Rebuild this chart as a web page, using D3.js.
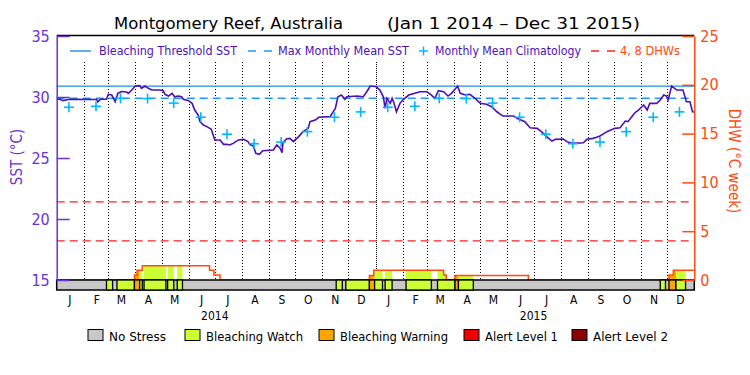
<!DOCTYPE html>
<html><head><meta charset="utf-8">
<script src="https://cdn.jsdelivr.net/npm/d3@7"></script>
<style>
body{margin:0;background:#fff;}
svg{display:block;}
text{font-family:'DejaVu Sans Condensed','Liberation Sans Narrow','DejaVu Sans',sans-serif;}
</style>
</head><body>
<svg id="chart" width="750" height="375"></svg>
<script>
// ---------- DATA ----------
const sstDay = [0,4,7,15,46,47,50,57,59,63,67,70,74,80,82,86,90,95,97,101,105,109,118,122,124,128,132,135,139,143,145,151,155,158,162,164,168,172,177,181,187,191,195,198,202,208,214,219,221,225,228,232,236,248,252,256,258,259,263,267,271,277,282,288,290,296,300,313,319,322,326,330,332,344,351,355,359,366,370,374,376,378,382,384,386,389,393,397,403,410,416,424,429,433,437,443,448,452,456,459,462,468,473,479,485,492,498,504,508,511,523,527,536,542,550,555,561,567,571,580,584,590,603,607,614,618,622,630,639,645,651,654,658,662,666,670,672,676,679,687,691,695,698,700,704,710,717,721,725,728,730];
const sstVal = [29.81,29.81,29.70,29.81,29.80,29.61,29.81,29.81,30.22,30.16,29.61,30.30,30.45,30.41,30.30,30.57,30.90,30.93,30.71,30.90,30.71,30.57,30.57,30.52,30.22,30.08,30.30,30.02,30.08,30.02,29.81,29.70,29.48,28.93,28.52,27.98,27.70,27.57,27.35,26.48,26.48,26.12,26.12,26.07,26.20,26.48,26.53,26.34,26.12,25.98,25.39,25.30,25.60,25.66,26.07,25.79,25.43,26.25,26.56,26.61,26.34,26.75,27.16,27.43,27.98,28.11,28.34,28.39,29.07,30.02,30.16,29.81,30.02,30.08,30.02,30.43,30.90,30.84,30.57,30.02,29.07,29.89,29.48,29.89,29.53,28.79,29.48,29.81,30.16,30.30,30.43,30.43,30.16,29.89,30.52,30.43,30.08,30.30,30.63,30.90,30.30,30.16,30.22,29.89,29.48,29.40,29.20,28.79,28.58,28.44,28.44,28.25,27.98,27.48,27.43,27.16,26.75,26.39,26.53,26.56,26.34,26.20,26.25,26.53,26.61,26.70,26.80,27.16,27.43,27.48,28.03,27.98,28.34,28.71,28.93,29.20,29.34,28.93,29.48,29.48,29.75,30.16,30.08,29.75,30.90,30.57,30.57,29.61,29.61,28.79,28.77];
const climVal = [29.16,29.24,29.89,29.87,29.50,28.34,26.95,26.17,26.31,27.16,28.34,28.78];
const mmmSST = 29.89;
const thresholdSST = 30.89;
const dhwRefLines = [4, 8];
const dhwDay = [0,89,92,98,175,180,187,358,363,443,446,456,540,701,706,730];
const dhwVal = [0,0.5,1.0,1.46,1.0,0.5,0,0.45,1.0,0.5,0,0.45,0,0.5,1.0,1.0];
const stressStart = [57,69,89,95,100,127,138,320,331,358,364,376,400,436,456,460,691,701,709];
const stressEnd   = [64,89,95,98,125,134,144,327,358,364,373,384,429,456,460,477,697,709,720];
const stressLevel = [1,1,2,1,1,1,1,1,1,2,1,1,1,1,2,1,1,2,1];
const stressNames = ["No Stress","Bleaching Watch","Bleaching Warning","Alert Level 1","Alert Level 2"];
const monthLabels = ["J","F","M","A","M","J","J","A","S","O","N","D"];
const yearLabels = [2014, 2015];
const sstTicks = [15,20,25,30,35];
const dhwTicks = [0,5,10,15,20,25];

// ---------- STYLE ----------
const C = {
  axisSST:"#6a33d6", sstLine:"#4c10b8", thresh:"#1e8fe6", mmm:"#1e9cf2", clim:"#00b8ff",
  dhw:"#ff4a10", dhwRef:"#ff2020",
  stress:["#c8c8c8","#ccff33","#ffa500","#ee0000","#8b0000"]
};
const svg = d3.select("#chart");
const day = d => d3.utcDay.offset(new Date(Date.UTC(2014,0,1)), d);
const x = d3.scaleUtc().domain([new Date(Date.UTC(2014,0,1)), new Date(Date.UTC(2016,0,1))]).range([56.7, 694.3]);
const yS = d3.scaleLinear().domain([15,35]).range([280,36]);
const yD = d3.scaleLinear().domain([0,25]).range([280,36]);
const L = 56.7, R = 694.3;

// title
svg.append("text").attr("x",114).attr("y",29).attr("font-size",16).attr("textLength",229).attr("lengthAdjust","spacingAndGlyphs").text("Montgomery Reef, Australia");
svg.append("text").attr("x",387).attr("y",29).attr("font-size",16).attr("textLength",253).attr("lengthAdjust","spacingAndGlyphs").text("(Jan 1 2014 \u2013 Dec 31 2015)");

// top border
svg.append("line").attr("x1",L).attr("x2",R).attr("y1",35.5).attr("y2",35.5).attr("stroke","#000").attr("stroke-width",1.5);

// dotted month lines
const months = d3.utcMonth.range(new Date(Date.UTC(2014,1,1)), new Date(Date.UTC(2016,0,1)));
svg.append("g").selectAll("line").data(months).join("line")
  .attr("x1",d=>Math.round(x(d))+0.5).attr("x2",d=>Math.round(x(d))+0.5)
  .attr("y1",62).attr("y2",280)
  .attr("stroke","#000").attr("stroke-width",1)
  .attr("stroke-dasharray",d=>(d.getUTCMonth()===0?"1,1":"1,2"));

// DHW reference lines
svg.append("g").selectAll("line").data(dhwRefLines).join("line")
  .attr("x1",L).attr("x2",R).attr("y1",d=>yD(d)).attr("y2",d=>yD(d))
  .attr("stroke",C.dhwRef).attr("stroke-width",1.3).attr("stroke-dasharray","8,5");

// threshold and MMM
svg.append("line").attr("x1",L).attr("x2",R).attr("y1",yS(thresholdSST)).attr("y2",yS(thresholdSST)).attr("stroke",C.thresh).attr("stroke-width",1.4);
svg.append("line").attr("x1",L).attr("x2",R).attr("y1",yS(mmmSST)).attr("y2",yS(mmmSST)).attr("stroke",C.mmm).attr("stroke-width",1.5).attr("stroke-dasharray","8,5");

// DHW fill clipped by stress segments
const dhwPts = dhwDay.map((d,i)=>({t:day(d), v:dhwVal[i]}));
const area = d3.area().curve(d3.curveStepAfter).x(d=>x(d.t)).y0(yD(0)).y1(d=>yD(d.v));
const defs = svg.append("defs");
stressStart.forEach((s,i)=>{
  defs.append("clipPath").attr("id","seg"+i).append("rect")
    .attr("x",x(day(s))).attr("y",0).attr("width",x(day(stressEnd[i]))-x(day(s))).attr("height",375);
  svg.append("path").datum(dhwPts).attr("d",area).attr("fill",C.stress[stressLevel[i]]).attr("clip-path","url(#seg"+i+")");
});
// DHW line
const dline = d3.line().curve(d3.curveStepAfter).x(d=>x(d.t)).y(d=>yD(d.v));
svg.append("path").datum(dhwPts).attr("d",dline).attr("fill","none").attr("stroke",C.dhw).attr("stroke-width",1.5);

// SST line
const sstPts = sstDay.map((d,i)=>({t:day(d), v:sstVal[i]}));
svg.append("path").datum(sstPts).attr("d",d3.line().x(d=>x(d.t)).y(d=>yS(d.v)))
  .attr("fill","none").attr("stroke",C.sstLine).attr("stroke-width",1.6).attr("stroke-linejoin","miter");

// climatology crosses
const climPts = [];
yearLabels.forEach(yr=>climVal.forEach((v,m)=>climPts.push({t:new Date(Date.UTC(yr,m,15)), v})));
const cg = svg.append("g").attr("stroke",C.clim).attr("stroke-width",1.6);
cg.selectAll(".h").data(climPts).join("line").attr("x1",d=>x(d.t)-5).attr("x2",d=>x(d.t)+5).attr("y1",d=>yS(d.v)).attr("y2",d=>yS(d.v));
cg.selectAll(".v").data(climPts).join("line").attr("x1",d=>x(d.t)).attr("x2",d=>x(d.t)).attr("y1",d=>yS(d.v)-5).attr("y2",d=>yS(d.v)+5);

// stress bar
svg.append("rect").attr("x",L).attr("y",280).attr("width",R-L).attr("height",10).attr("fill",C.stress[0]).attr("stroke","#000").attr("stroke-width",1.5);
svg.append("g").selectAll("rect").data(stressStart).join("rect")
  .attr("x",(d)=>x(day(d))).attr("y",280).attr("width",(d,i)=>x(day(stressEnd[i]))-x(day(d))).attr("height",10)
  .attr("fill",(d,i)=>C.stress[stressLevel[i]]).attr("stroke","#000").attr("stroke-width",1.3);

// left axis
const gl = svg.append("g").attr("transform",`translate(${L},0)`);
gl.call(d3.axisLeft(yS).tickValues(d3.range(15,36,1)).tickSize(-6.5).tickSizeOuter(0).tickFormat(""));
gl.call(d3.axisLeft(yS).tickValues(sstTicks).tickSize(-13).tickSizeOuter(0).tickPadding(7).tickFormat(d3.format("d")));
gl.selectAll("path,line").attr("stroke",C.axisSST).attr("stroke-width",1.5);
gl.selectAll("text").attr("fill",C.axisSST).attr("font-size",16).attr("font-family","'DejaVu Sans Condensed',sans-serif");
svg.append("text").attr("transform","translate(22,157) rotate(-90)").attr("text-anchor","middle").attr("font-size",15).attr("fill",C.axisSST).text("SST (\u00B0C)");

// right axis
const gr = svg.append("g").attr("transform",`translate(${R},0)`);
gr.call(d3.axisRight(yD).tickValues(d3.range(0,26,1)).tickSize(-6.5).tickSizeOuter(0).tickFormat(""));
gr.call(d3.axisRight(yD).tickValues(dhwTicks).tickSize(-12).tickSizeOuter(0).tickPadding(6).tickFormat(d3.format("d")));
gr.selectAll("path,line").attr("stroke",C.dhw).attr("stroke-width",1.5);
gr.selectAll("text").attr("fill",C.dhw).attr("font-size",16).attr("font-family","'DejaVu Sans Condensed',sans-serif");
svg.append("text").attr("transform","translate(729,161) rotate(90)").attr("text-anchor","middle").attr("font-size",15).attr("fill",C.dhw).text("DHW (\u00B0C week)");

// month labels
const mids = [];
yearLabels.forEach(yr=>monthLabels.forEach((m,i)=>mids.push({t:new Date(Date.UTC(yr,i,16)), m})));
svg.append("g").selectAll("text").data(mids).join("text")
  .attr("x",d=>x(d.t)).attr("y",304).attr("text-anchor","middle").attr("font-size",12).text(d=>d.m);
svg.append("g").selectAll("text").data(yearLabels).join("text")
  .attr("x",d=>x(new Date(Date.UTC(d,6,1)))).attr("y",320).attr("text-anchor","middle").attr("font-size",12).text(d=>d);

// top legend
const lg = svg.append("g").attr("font-size",11.5);
lg.append("line").attr("x1",70).attr("x2",91).attr("y1",51).attr("y2",51).attr("stroke",C.thresh).attr("stroke-width",1.4);
lg.append("text").attr("x",99).attr("y",55).attr("fill",C.sstLine).attr("textLength",138).attr("lengthAdjust","spacingAndGlyphs").text("Bleaching Threshold SST");
lg.append("line").attr("x1",248).attr("x2",273).attr("y1",51).attr("y2",51).attr("stroke",C.mmm).attr("stroke-width",1.5).attr("stroke-dasharray","8,8");
lg.append("text").attr("x",278).attr("y",55).attr("fill",C.sstLine).attr("textLength",131).attr("lengthAdjust","spacingAndGlyphs").text("Max Monthly Mean SST");
lg.append("line").attr("x1",419).attr("x2",428).attr("y1",51).attr("y2",51).attr("stroke",C.clim).attr("stroke-width",1.5);
lg.append("line").attr("x1",423.5).attr("x2",423.5).attr("y1",46.5).attr("y2",55.5).attr("stroke",C.clim).attr("stroke-width",1.5);
lg.append("text").attr("x",435).attr("y",55).attr("fill",C.sstLine).attr("textLength",146).attr("lengthAdjust","spacingAndGlyphs").text("Monthly Mean Climatology");
lg.append("line").attr("x1",591).attr("x2",616).attr("y1",51).attr("y2",51).attr("stroke",C.dhwRef).attr("stroke-width",1.4).attr("stroke-dasharray","8,8");
lg.append("text").attr("x",620).attr("y",55).attr("fill",C.dhw).attr("textLength",60).attr("lengthAdjust","spacingAndGlyphs").text("4, 8 DHWs");

// bottom legend
const boxX = [88,185,319,464,572];
const txtLen = [57,97,108,73,75];
const bl = svg.append("g");
stressNames.forEach((n,i)=>{
  bl.append("rect").attr("x",boxX[i]).attr("y",329.5).attr("width",15).attr("height",11).attr("fill",C.stress[i]).attr("stroke","#000").attr("stroke-width",1);
  bl.append("text").attr("x",boxX[i]+21).attr("y",340.5).attr("font-size",12).attr("textLength",txtLen[i]).attr("lengthAdjust","spacingAndGlyphs").text(n);
});
</script>
</body></html>
